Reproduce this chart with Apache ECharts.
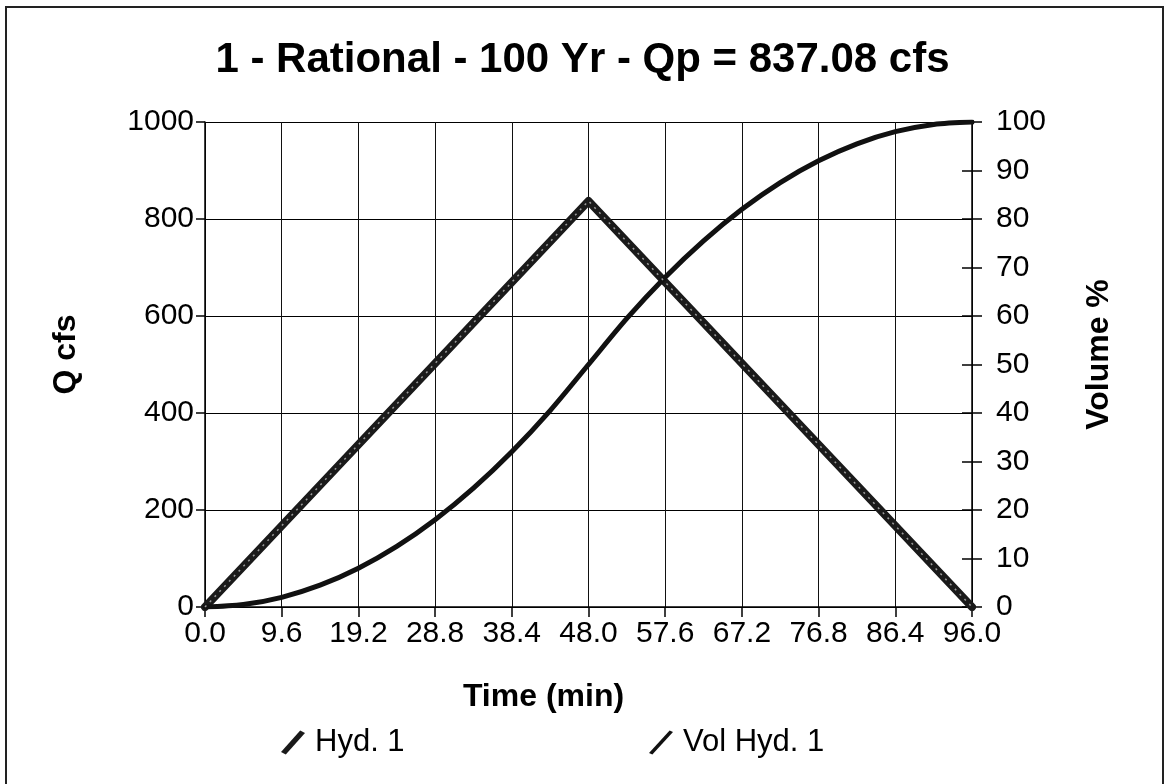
<!DOCTYPE html>
<html><head><meta charset="utf-8">
<script src="https://cdn.jsdelivr.net/npm/echarts@6/dist/echarts.min.js"></script>
<style>html,body{margin:0;padding:0;background:#fff}#c{width:1165px;height:784px}</style>
</head><body><div id="c"></div>
<script>
var titleText = '1 - Rational - 100 Yr - Qp = 837.08 cfs';
var hydTime = [0, 48, 96];
var hydQ = [0, 837.08, 0];
var volTime = [0, 4.8, 9.6, 14.4, 19.2, 24, 28.8, 33.6, 38.4, 43.2, 48, 52.8, 57.6, 62.4, 67.2, 72, 76.8, 81.6, 86.4, 91.2, 96];
var volPct = [0, 0.5, 2, 4.5, 8, 12.5, 18, 24.5, 32, 40.5, 50, 59.5, 68, 75.5, 82, 87.5, 92, 95.5, 98, 99.5, 100];
var seriesNames = ['Hyd. 1', 'Vol Hyd. 1'];
var xName = 'Time (min)', yName = 'Q cfs', y2Name = 'Volume %';

var hydData = hydTime.map(function (t, i) { return [t, hydQ[i]]; });
var volData = volTime.map(function (t, i) { return [t, volPct[i]]; });
var font = '"Liberation Sans", Arial, sans-serif';
var chart = echarts.init(document.getElementById('c'), null, {renderer: 'canvas'});
var slash = 'path://M0,9 L8,0 L10,1 L2,10 Z';
var slashThin = 'path://M0,9.4 L8.6,0 L10,0.6 L1.4,10 Z';
var TICK = 30;
chart.setOption({
  animation: false,
  backgroundColor: '#fff',
  textStyle: {fontFamily: font, color: '#000'},
  title: {text: titleText, left: 'center', top: 34,
    textStyle: {fontFamily: font, fontSize: 42, fontWeight: 'bold', color: '#000'}},
  grid: {left: 205, right: 193, top: 122, bottom: 177, containLabel: false},
  legend: [
    {data: [{name: seriesNames[0], icon: slash}], left: 276, top: 722, itemWidth: 34, itemHeight: 24,
      textStyle: {fontFamily: font, fontSize: 31, color: '#000'}},
    {data: [{name: seriesNames[1], icon: slashThin}], left: 644, top: 722, itemWidth: 34, itemHeight: 24,
      textStyle: {fontFamily: font, fontSize: 31, color: '#000'}}
  ],
  xAxis: {type: 'value', min: 0, max: 96, interval: 9.6,
    name: xName, nameLocation: 'middle', nameGap: 74,
    nameTextStyle: {fontFamily: font, fontSize: 32, fontWeight: 'bold', color: '#000', padding: [0, 90, 0, 0]},
    axisLine: {lineStyle: {color: '#000', width: 1.5}},
    axisTick: {show: true, inside: false, length: 10, lineStyle: {color: '#000', width: 1.5}},
    axisLabel: {fontFamily: font, fontSize: TICK, color: '#000', margin: 12,
      formatter: function (v) { return v.toFixed(1); }},
    splitLine: {show: true, lineStyle: {color: '#111', width: 1}}},
  yAxis: [
    {type: 'value', min: 0, max: 1000, interval: 200, position: 'left',
      name: yName, nameLocation: 'middle', nameGap: 123, nameRotate: 90,
      nameTextStyle: {fontFamily: font, fontSize: 32, fontWeight: 'bold', color: '#000', padding: [0, 0, 0, 20]},
      axisLine: {show: true, lineStyle: {color: '#000', width: 1.5}},
      axisTick: {show: true, length: 9, lineStyle: {color: '#000', width: 1.5}},
      axisLabel: {fontFamily: font, fontSize: TICK, color: '#000', margin: 11,
        formatter: function (v) { return String(v); }},
      splitLine: {show: true, lineStyle: {color: '#000', width: 1}}},
    {type: 'value', min: 0, max: 100, interval: 10, position: 'right',
      name: y2Name, nameLocation: 'middle', nameGap: 111, nameRotate: 90,
      nameTextStyle: {fontFamily: font, fontSize: 32, fontWeight: 'bold', color: '#000', padding: [0, 0, 0, 20]},
      axisLine: {show: true, lineStyle: {color: '#000', width: 1.5}},
      axisTick: {show: true, length: 10, lineStyle: {color: '#000', width: 1.5}},
      axisLabel: {fontFamily: font, fontSize: TICK, color: '#000', margin: 24,
        formatter: function (v) { return String(v); }},
      splitLine: {show: false}},
    {type: 'value', min: 0, max: 100, interval: 10, position: 'right',
      axisLine: {show: false}, axisLabel: {show: false}, splitLine: {show: false},
      axisTick: {show: true, inside: true, length: 10, lineStyle: {color: '#000', width: 1.5}}}
  ],
  series: [
    {name: seriesNames[0], type: 'line', data: hydData, yAxisIndex: 0, showSymbol: false,
      lineStyle: {color: '#1a1a1a', width: 8, cap: 'round', join: 'round'}, itemStyle: {color: '#1a1a1a'}, z: 3},
    {name: seriesNames[0] + ' core', type: 'line', data: hydData, yAxisIndex: 0, showSymbol: false, silent: true,
      lineStyle: {color: '#9a9a9a', width: 1.5, type: [2, 5]}, z: 4},
    {name: seriesNames[1], type: 'line', data: volData, yAxisIndex: 1, showSymbol: false, smooth: 0.3,
      lineStyle: {color: '#111', width: 5, cap: 'round', join: 'round'}, itemStyle: {color: '#111'}, z: 3}
  ],
  graphic: [
    {type: 'polyline', shape: {points: [[6, 784], [6, 7], [1163, 7], [1163, 784]]},
      style: {stroke: '#222', lineWidth: 2, fill: null}, silent: true}
  ]
});
</script></body></html>
